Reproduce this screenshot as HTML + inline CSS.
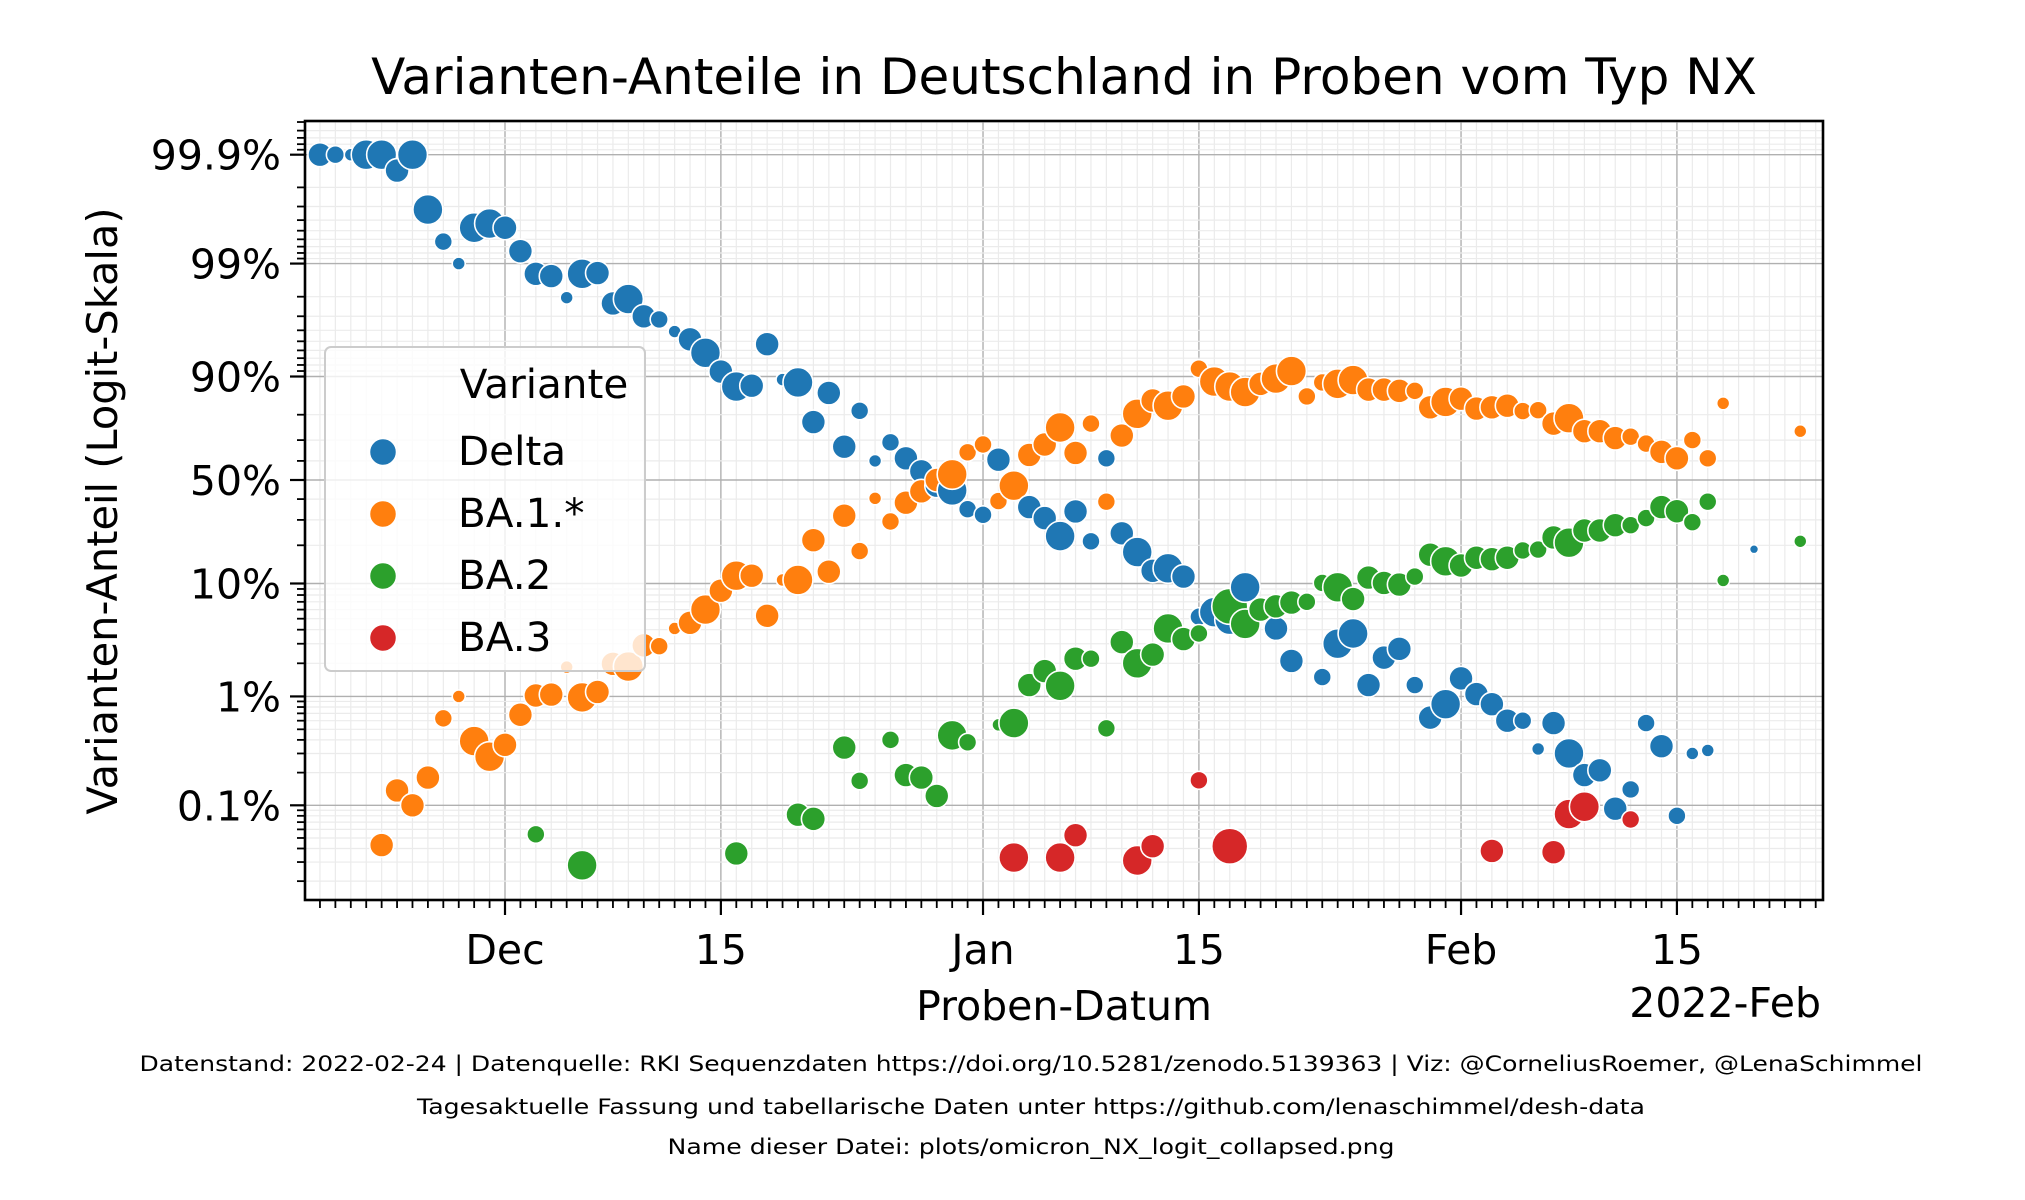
<!DOCTYPE html>
<html><head><meta charset="utf-8"><style>
html,body{margin:0;padding:0;background:#fff;}
svg{display:block;font-family:"DejaVu Sans","Liberation Sans",sans-serif;}
</style></head><body>
<svg id="chart" width="2025" height="1200" viewBox="0 0 2025 1200" xmlns="http://www.w3.org/2000/svg">
<rect width="2025" height="1200" fill="#fff"/>
<text x="1064" y="94" font-size="50" text-anchor="middle">Varianten-Anteile in Deutschland in Proben vom Typ NX</text>
<g id="grid"></g>
<g id="points"></g>
<g id="axes"></g>
<text transform="translate(117,511) rotate(-90)" font-size="41.5" text-anchor="middle">Varianten-Anteil (Logit-Skala)</text>
<text x="1064" y="1020" font-size="41" text-anchor="middle">Proben-Datum</text>
<text x="1821" y="1017" font-size="41" text-anchor="end">2022-Feb</text>
<g id="legend">
<rect x="325" y="347" width="320" height="324" rx="6" fill="#fff" fill-opacity="0.8" stroke="#cccccc" stroke-width="2"/>
<text x="544" y="398" font-size="40.5" text-anchor="middle">Variante</text>
<g><circle cx="383" cy="452" r="13.5" fill="#1f77b4" stroke="#fff" stroke-width="1.5"/><text x="458" y="465" font-size="40.5">Delta</text></g>
<g><circle cx="383" cy="514" r="13.5" fill="#ff7f0e" stroke="#fff" stroke-width="1.5"/><text x="458" y="527" font-size="40.5">BA.1.*</text></g>
<g><circle cx="383" cy="576" r="13.5" fill="#2ca02c" stroke="#fff" stroke-width="1.5"/><text x="458" y="589" font-size="40.5">BA.2</text></g>
<g><circle cx="383" cy="638" r="13.5" fill="#d62728" stroke="#fff" stroke-width="1.5"/><text x="458" y="651" font-size="40.5">BA.3</text></g>
</g>
<text x="1031" y="1071" font-size="21" text-anchor="middle" textLength="1783" lengthAdjust="spacingAndGlyphs">Datenstand: 2022-02-24 | Datenquelle: RKI Sequenzdaten https://doi.org/10.5281/zenodo.5139363 | Viz: @CorneliusRoemer, @LenaSchimmel</text>
<text x="1031" y="1114" font-size="21" text-anchor="middle" textLength="1228" lengthAdjust="spacingAndGlyphs">Tagesaktuelle Fassung und tabellarische Daten unter https://github.com/lenaschimmel/desh-data</text>
<text x="1031" y="1154" font-size="21" text-anchor="middle" textLength="727" lengthAdjust="spacingAndGlyphs">Name dieser Datei: plots/omicron_NX_logit_collapsed.png</text>
</svg>
<script>
// days since 2021-12-01
const deltaDays = [-12,-11,-10,-9,-8,-7,-6,-5,-4,-3,-2,-1,0,1,2,3,4,5,6,7,8,9,10,11,12,13,14,15,16,17,18,19,20,21,22,23,24,25,26,27,28,29,30,31,32,34,35,36,37,38,39,40,41,42,43,44,45,46,47,48,50,51,53,54,55,56,57,58,59,60,61,62,63,64,65,66,67,68,69,70,71,72,73,74,75,76,77,78,81];
const deltaVals = [99.9,99.9,99.9,99.9,99.9,99.86,99.9,99.68,99.37,99.0,99.53,99.57,99.53,99.23,98.76,98.7,97.96,98.76,98.78,97.7,97.9,97.0,96.8,95.9,95.2,93.7,90.9,87.9,88.1,94.7,89.4,88.8,77.4,86.4,67,81.3,60,69,61.3,54.6,47,44.5,35,32.3,60.6,36,30.8,23.3,33.9,21.4,61.3,24.4,17.8,12.7,13.3,11.4,5.2,5.7,4.9,9.3,4.1,2.1,1.5,3.0,3.7,1.27,2.25,2.7,1.27,0.64,0.85,1.46,1.05,0.85,0.6,0.6,0.33,0.57,0.30,0.19,0.21,0.093,0.14,0.57,0.35,0.08,0.30,0.32,18.7];
const deltaSizes = [3,2,1,4,4,3,4,4,2,1,4,4,3,3,3,3,1,4,3,3,4,3,2,1,3,4,3,4,3,3,1,4,3,3,3,2,1,2,3,3,3,4,2,2,3,3,3,4,3,2,2,3,4,3,4,3,2,4,4,4,3,3,2,4,4,3,3,3,2,3,4,3,3,3,3,2,1,3,4,3,3,3,2,2,3,2,1,1,0];

const ba1Days = [-8,-7,-6,-5,-4,-3,-2,-1,0,1,2,3,4,5,6,7,8,9,10,11,12,13,14,15,16,17,18,19,20,21,22,23,24,25,26,27,28,29,30,31,32,33,34,35,36,37,38,39,40,41,42,43,44,45,46,47,48,49,50,51,52,53,54,55,56,57,58,59,60,61,62,63,64,65,66,67,68,69,70,71,72,73,74,75,76,77,78,79,84];
const ba1Vals = [0.043,0.137,0.10,0.18,0.63,1.0,0.39,0.28,0.36,0.68,1.02,1.04,1.85,0.98,1.1,1.98,1.87,2.9,2.85,4.1,4.6,6.0,8.7,11.6,11.6,5.3,10.7,10.7,21.8,12.5,31.9,18.1,40.4,29.3,38.2,44,50,53,64.3,68,39,47,63,68,75.3,64,76.8,38.7,72,80.3,84.4,82.9,85.5,91.4,89,87.9,86.6,88.5,89.6,91,85.5,88.8,88.5,89.3,87.2,87.2,86.9,86.9,82.4,84,84.9,82,82.4,82.9,81.2,81.5,76.8,78.8,73.8,73.8,70.9,71.5,68.4,64.5,61.3,70,61.3,83.6,73.8];
const ba1Sizes = [3,3,3,3,2,1,4,4,3,3,3,3,1,4,3,3,4,3,2,1,3,4,3,4,3,3,1,4,3,3,3,2,1,2,3,3,3,4,2,2,2,4,3,3,4,3,2,2,3,4,3,4,3,2,4,4,4,3,4,4,2,2,4,4,3,3,3,2,3,4,3,3,3,3,2,2,3,4,3,3,3,2,2,3,3,2,2,1,1];

const ba2Days = [2,5,15,19,20,22,23,25,26,27,28,29,30,32,33,34,35,36,37,38,39,40,41,42,43,44,45,47,48,49,50,51,52,53,54,55,56,57,58,59,60,61,62,63,64,65,66,67,68,69,70,71,72,73,74,75,76,77,78,79,84];
const ba2Vals = [0.054,0.028,0.036,0.082,0.075,0.34,0.168,0.40,0.19,0.18,0.122,0.44,0.38,0.55,0.57,1.27,1.7,1.25,2.2,2.2,0.51,3.1,2.0,2.4,4.1,3.3,3.7,6.4,4.5,6.0,6.4,6.9,7.0,10.1,9.3,7.4,11.2,10.1,9.8,11.4,17,15.1,14,16.1,15.7,16.1,18.3,18.6,22.8,20.9,25.5,25.5,27.7,27.7,30.8,36,34,29,38.7,10.6,21.4];
const ba2Sizes = [2,4,3,3,3,3,2,2,3,3,3,4,2,1,4,3,3,4,3,2,2,3,4,3,4,3,2,5,4,3,3,3,2,2,4,3,3,3,3,2,3,4,3,3,3,3,2,2,3,4,3,3,3,2,2,3,3,2,2,1,1];

const ba3Days = [33,36,37,41,42,45,47,64,68,69,70,73];
const ba3Vals = [0.033,0.033,0.053,0.031,0.042,0.17,0.042,0.038,0.037,0.083,0.097,0.074];
const ba3Sizes = [4,4,3,4,3,2,5,3,3,4,4,2];

const xTickDays = [0,14,31,45,62,76];
const xTickLabels = ["Dec","15","Jan","15","Feb","15"];
const yTickVals = [0.1,1,10,50,90,99,99.9];
const yTickLabels = ["0.1%","1%","10%","50%","90%","99%","99.9%"];

const L=305,R=1823,T=121,B=900;
const X0=505, DX=15.42, Y0=480, DY=47.1;
const NS="http://www.w3.org/2000/svg";
function xPx(d){return X0+d*DX;}
function logit(p){return Math.log(p/(1-p));}
function yPx(pct){return Y0-DY*logit(pct/100);}
const radius=[4.5,6.5,9,12,15,18];
function mk(tag,attrs,parent){const e=document.createElementNS(NS,tag);for(const k in attrs)e.setAttribute(k,attrs[k]);parent.appendChild(e);return e;}

const grid=document.getElementById('grid');
const axes=document.getElementById('axes');
const pts=document.getElementById('points');
for(let d=-12;d<=85;d++){
  const x=xPx(d); if(x<L||x>R)continue;
  const major=xTickDays.includes(d);
  const ln=mk('line',{x1:x,x2:x,y1:T,y2:B,stroke:major?'#b0b0b0':'#ebebeb','stroke-width':major?1.4:1.2},grid);
  
  
  const tk=mk('line',{x1:x,x2:x,y1:B,y2:B+(major?15:8),stroke:'#000','stroke-width':major?2.2:1.8},axes);
  
  
}
const minorP=[];
for(const dec of [1e-4,1e-3,1e-2]){for(let k=2;k<=9;k++){minorP.push(k*dec);minorP.push(1-k*dec);}}
[0.2,0.3,0.4,0.6,0.7,0.8].forEach(v=>minorP.push(v));
minorP.forEach(p=>{
  const y=Y0-DY*logit(p); if(y<T||y>B)return;
  const g=mk('line',{x1:L,x2:R,y1:y,y2:y,stroke:'#ebebeb','stroke-width':1.2},grid);
  
  
  const t=mk('line',{x1:L-8,x2:L,y1:y,y2:y,stroke:'#000','stroke-width':1.8},axes);
  
  
});
yTickVals.forEach((v,i)=>{
  const y=yPx(v);
  const g=mk('line',{x1:L,x2:R,y1:y,y2:y,stroke:'#b0b0b0','stroke-width':1.4},grid);
  
  
  const t=mk('line',{x1:L-15,x2:L,y1:y,y2:y,stroke:'#000','stroke-width':2.2},axes);
  
  
  const tx=mk('text',{x:L-24,y:y+15,'font-size':41,'text-anchor':'end'},axes);
  tx.textContent=yTickLabels[i];
  
  
});
xTickDays.forEach((d,i)=>{
  const tx=mk('text',{x:xPx(d),y:964,'font-size':41,'text-anchor':'middle'},axes);
  tx.textContent=xTickLabels[i];
  
  
});
const frame=mk('rect',{x:L,y:T,width:R-L,height:B-T,fill:'none',stroke:'#000','stroke-width':2.6},axes);



const series=[
 {name:'delta',color:'#1f77b4',days:deltaDays,vals:deltaVals,sizes:deltaSizes,o:0},
 {name:'ba1',color:'#ff7f0e',days:ba1Days,vals:ba1Vals,sizes:ba1Sizes,o:1},
 {name:'ba2',color:'#2ca02c',days:ba2Days,vals:ba2Vals,sizes:ba2Sizes,o:2},
 {name:'ba3',color:'#d62728',days:ba3Days,vals:ba3Vals,sizes:ba3Sizes,o:3}];
const all=[];
series.forEach(s=>s.days.forEach((d,i)=>all.push({s,d,v:s.vals[i],r:radius[s.sizes[i]]})));
all.sort((a,b)=>a.d-b.d||a.s.o-b.s.o);
all.forEach(p=>{
  const c=mk('circle',{cx:xPx(p.d),cy:yPx(p.v),r:p.r,fill:p.s.color,stroke:'#fff','stroke-width':1.6},pts);
  
  
});
</script>
</body></html>
